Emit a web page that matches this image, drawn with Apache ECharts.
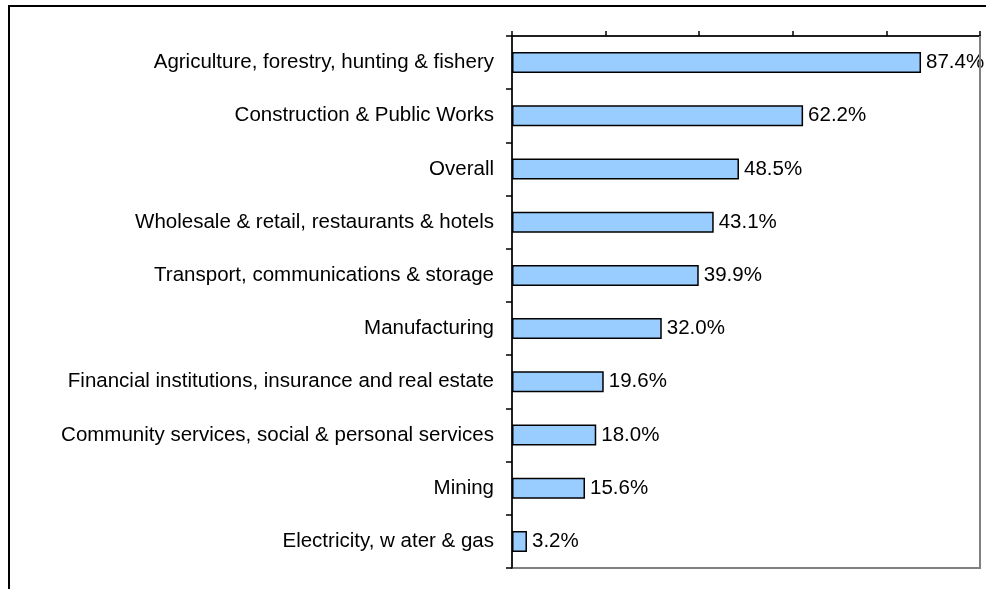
<!DOCTYPE html>
<html>
<head>
<meta charset="utf-8">
<script src="https://cdn.jsdelivr.net/npm/echarts@6/dist/echarts.min.js"></script>
<style>
  html, body { margin: 0; padding: 0; background: #ffffff; }
  #chart { width: 986px; height: 589px; }
</style>
</head>
<body>
<div id="chart"></div>
<script>
// Sectors, listed top to bottom
const categories = [
  'Agriculture, forestry, hunting & fishery',
  'Construction & Public Works',
  'Overall',
  'Wholesale & retail, restaurants & hotels',
  'Transport, communications & storage',
  'Manufacturing',
  'Financial institutions, insurance and real estate',
  'Community services, social & personal services',
  'Mining',
  'Electricity, w ater & gas'
];
// Share per sector, in percent
const shares = [87.4, 62.2, 48.5, 43.1, 39.9, 32.0, 19.6, 18.0, 15.6, 3.2];

const axisMin = 0;
const axisMax = 100;
const axisStep = 20;

const font = 'Liberation Sans, Arial, sans-serif';

const chart = echarts.init(document.getElementById('chart'));
chart.setOption({
  animation: false,
  backgroundColor: '#ffffff',
  textStyle: { fontFamily: font },
  grid: {
    left: 512, right: 6, top: 36, bottom: 21,
    show: true, borderColor: '#808080', borderWidth: 2, backgroundColor: 'transparent'
  },
  xAxis: {
    type: 'value', position: 'top',
    min: axisMin, max: axisMax, interval: axisStep,
    axisLine: { show: true, lineStyle: { color: '#000', width: 1.5 } },
    axisTick: { show: true, inside: false, length: 5, lineStyle: { color: '#000', width: 1.5 } },
    axisLabel: { show: false },
    splitLine: { show: false }
  },
  yAxis: {
    type: 'category', inverse: true, data: categories,
    axisLine: { show: true, lineStyle: { color: '#000', width: 1.5 } },
    axisTick: { show: true, inside: false, length: 6, lineStyle: { color: '#000', width: 1.5 } },
    axisLabel: { color: '#000', fontSize: 20.5, margin: 18, fontFamily: font },
    splitLine: { show: false }
  },
  series: [{
    type: 'bar',
    data: shares,
    barWidth: 21,
    itemStyle: { color: '#99CCFF', borderColor: '#000', borderWidth: 1.5 },
    label: {
      show: true, position: 'right', distance: 5,
      color: '#000', fontSize: 20.5, fontFamily: font,
      formatter: p => p.value.toFixed(1) + '%'
    }
  }],
  graphic: [
    // right edge of the plot frame, drawn above the value labels
    {
      type: 'line', z: 100,
      shape: { x1: 980, y1: 36, x2: 980, y2: 569 },
      style: { stroke: '#808080', lineWidth: 2 }
    },
    // outer chart frame
    {
      type: 'rect', z: 100,
      shape: { x: 9, y: 6, width: 1000, height: 600 },
      style: { fill: null, stroke: '#000', lineWidth: 2 }
    }
  ]
});
</script>
</body>
</html>
